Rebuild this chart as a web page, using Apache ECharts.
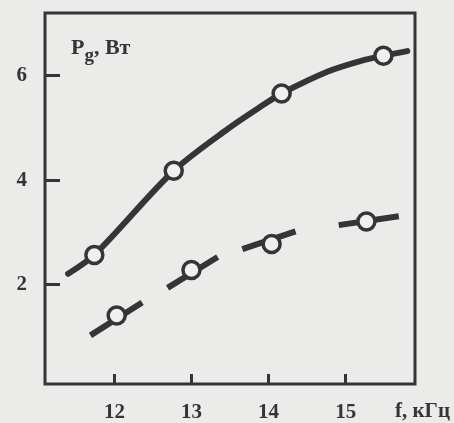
<!DOCTYPE html>
<html>
<head>
<meta charset="utf-8">
<script src="https://cdn.jsdelivr.net/npm/echarts@6/dist/echarts.min.js"></script>
<style>
  html, body { margin: 0; padding: 0; background: #ebebea; }
  #chart { width: 454px; height: 423px; }
</style>
</head>
<body>
<div id="chart"></div>
<script>
// ticks
const xTicks = [12, 13, 14, 15]
const yTicks = [2, 4, 6]

// solid curve (upper)
const curve1 = [[11.40, 2.21], [11.74, 2.57], [12.77, 4.18], [13.47, 4.98], [13.90, 5.41], [14.17, 5.66], [14.77, 6.08], [15.19, 6.28], [15.49, 6.38], [15.80, 6.47]]
// measured points on upper curve
const points1 = [[11.74, 2.57], [12.77, 4.18], [14.17, 5.66], [15.49, 6.38]]

// dashed curve (lower) - each dash is a short piece through a point
const dashes2 = [
  [[11.69, 1.03], [12.36, 1.66]],
  [[12.69, 1.94], [13.34, 2.53]],
  [[13.66, 2.68], [14.35, 3.02]],
  [[14.91, 3.14], [15.69, 3.31]]
]
const points2 = [[12.03, 1.41], [13.00, 2.28], [14.04, 2.78], [15.27, 3.21]]

const ink = '#353535'
const font = 'Liberation Serif'

const chart = echarts.init(document.getElementById('chart'))

const series = [
  {
    type: 'line',
    data: curve1,
    smooth: 0.3,
    symbol: 'none',
    lineStyle: { color: ink, width: 6, cap: 'round' },
    z: 2
  }
]
dashes2.forEach(d => {
  series.push({
    type: 'line',
    data: d,
    symbol: 'none',
    lineStyle: { color: ink, width: 6, cap: 'butt' },
    z: 2
  })
})
series.push({
  type: 'scatter',
  data: points1.concat(points2),
  symbol: 'circle',
  symbolSize: 17,
  itemStyle: { color: '#f0f0ef', borderColor: ink, borderWidth: 3.5, opacity: 1 },
  z: 3
})

chart.setOption({
  backgroundColor: '#ebebea',
  animation: false,
  title: [
    {
      text: '{p|P}{s|g}{p|, Вт}',
      left: 66,
      top: 26,
      textStyle: {
        rich: {
          p: { fontFamily: font, fontSize: 22, fontWeight: 'bold', color: ink },
          s: { fontFamily: font, fontSize: 19, fontWeight: 'bold', color: ink, padding: [16, 0, 0, 0] }
        }
      }
    },
    {
      text: 'f, кГц',
      left: 390,
      top: 396,
      textStyle: { fontFamily: font, fontSize: 21, fontWeight: 'bold', color: ink }
    }
  ],
  grid: {
    show: true,
    left: 45,
    right: 39,
    top: 13,
    bottom: 36,
    borderColor: ink,
    borderWidth: 3,
    backgroundColor: 'transparent'
  },
  xAxis: {
    type: 'value',
    min: 11.1,
    max: 15.9,
    axisLine: { show: false },
    splitLine: { show: false },
    axisTick: {
      show: true,
      inside: true,
      length: 10,
      customValues: xTicks,
      lineStyle: { color: ink, width: 3 }
    },
    axisLabel: {
      customValues: xTicks,
      margin: 18,
      fontFamily: font,
      fontSize: 21,
      fontWeight: 'bold',
      color: ink
    }
  },
  yAxis: {
    type: 'value',
    min: 0.1,
    max: 7.2,
    axisLine: { show: false },
    splitLine: { show: false },
    axisTick: {
      show: true,
      inside: true,
      length: 15,
      customValues: yTicks,
      lineStyle: { color: ink, width: 3 }
    },
    axisLabel: {
      customValues: yTicks,
      margin: 18,
      fontFamily: font,
      fontSize: 21,
      fontWeight: 'bold',
      color: ink
    }
  },
  series: series
})
</script>
</body>
</html>
